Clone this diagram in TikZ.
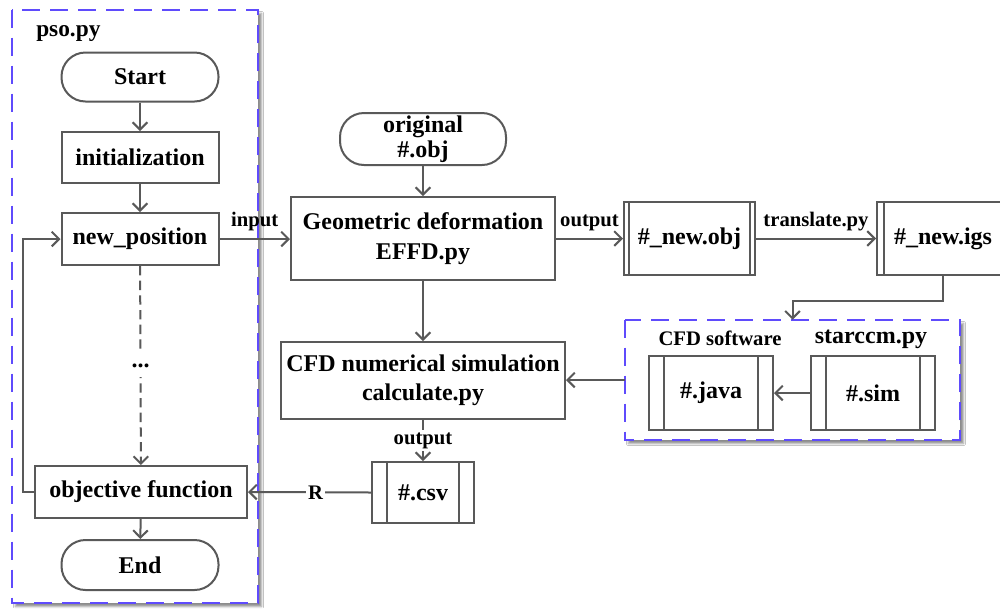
\documentclass[tikz,border=0pt]{standalone}
\usepackage{fontspec}
\setmainfont{Liberation Serif}
\usetikzlibrary{arrows.meta,shadows.blur}

\definecolor{linegrey}{RGB}{89,89,89}
\definecolor{groupblue}{RGB}{95,75,252}

\tikzset{
  every node/.style={font=\bfseries\fontsize{18}{22}\selectfont, text=black, inner sep=0pt},
  smalltxt/.style={font=\bfseries\fontsize{15.5}{18}\selectfont},
  box/.style={draw=linegrey, line width=1.5pt, fill=white, align=center},
  terminal/.style={box, rounded corners=18pt, minimum width=157*0.75pt},
  bars/.style={box, path picture={
      \draw[linegrey, line width=1.5pt]
        ([xshift=#1]path picture bounding box.north west) -- ([xshift=#1]path picture bounding box.south west)
        ([xshift=-#1]path picture bounding box.north east) -- ([xshift=-#1]path picture bounding box.south east);}},
  group/.style={fill=white,
      blur shadow={shadow xshift=2.6pt, shadow yshift=-2.6pt, shadow blur radius=1.6pt, shadow opacity=45}},
  groupline/.style={draw=groupblue, line width=1.8pt, dash pattern=on 13.5pt off 7.5pt},
  arr/.style={draw=linegrey, line width=1.5pt, -{Straight Barb[length=5.5pt, width=11pt, line width=1.5pt]}},
  label on line/.style={smalltxt, fill=white, inner sep=1.5pt},
}

\begin{document}
\begin{tikzpicture}[x=0.75pt, y=-0.75pt]
  \clip (0,0) rectangle (1000,608);
  \fill[white] (0,0) rectangle (1000,608);

  % dashed groups
  \node[group, minimum width=246*0.75pt, minimum height=593*0.75pt] (psobox) at (135,306.5) {};
  \node[group, minimum width=335*0.75pt, minimum height=120*0.75pt] (cfdbox) at (792.5,380) {};
  \draw[groupline] (psobox.north west) rectangle (psobox.south east);
  \draw[groupline] (cfdbox.north west) rectangle (cfdbox.south east);

  % pso.py flow
  \node[anchor=west, font=\bfseries\fontsize{17.5}{20}\selectfont] (psolabel) at (36,34) {pso.py};
  \node[terminal, minimum height=49*0.75pt] (start) at (140,77) {Start};
  \node[box, minimum width=157*0.75pt, minimum height=51*0.75pt] (init) at (140,157.5) {initialization};
  \node[box, minimum width=157*0.75pt, minimum height=52*0.75pt] (newpos) at (140,239) {new\_position};
  \node[box, minimum width=212*0.75pt, minimum height=52*0.75pt] (obj) at (141,492) {objective function};
  \node[terminal, minimum height=50*0.75pt] (end) at (140,565) {End};

  % geometry and simulation chain
  \node[terminal, minimum width=166*0.75pt, minimum height=52*0.75pt,
        font=\bfseries\fontsize{18}{19}\selectfont] (orig) at (423,139) {original\\\#.obj};
  \node[box, minimum width=264*0.75pt, minimum height=83*0.75pt] (geo) at (423,238.5) {Geometric deformation\\EFFD.py};
  \node[bars=3.75pt, minimum width=131*0.75pt, minimum height=73*0.75pt] (newobj) at (689.5,238.5) {\#\_new.obj};
  \node[bars=5.25pt, minimum width=132*0.75pt, minimum height=73*0.75pt] (newigs) at (943,238.5) {\#\_new.igs};
  \node[box, minimum width=284*0.75pt, minimum height=77*0.75pt] (cfd) at (423,380.5) {CFD numerical simulation\\calculate.py};
  \node[bars=11.25pt, minimum width=124*0.75pt, minimum height=74*0.75pt] (java) at (711,393) {\#.java};
  \node[bars=11.25pt, minimum width=124*0.75pt, minimum height=74*0.75pt] (sim) at (873,393) {\#.sim};
  \node[smalltxt] (cfdsw) at (720,338) {CFD software};
  \node (starccm) at (871,339) {starccm.py};
  \node[bars=11.25pt, minimum width=102*0.75pt, minimum height=61*0.75pt] (csv) at (423,492.5) {\#.csv};

  % pso.py connectors
  \draw[arr] (start) -- (init);
  \draw[arr] (init) -- (newpos);
  \draw[arr, dash pattern=on 7pt off 4pt] (newpos) --
    node[fill=white, minimum height=17pt, minimum width=14pt, pos=0.5] (dots) {...} (obj);
  \draw[arr] (obj) -- (end);
  \draw[arr] (obj.west) -- ++(-11,0) |- (newpos.west);

  % main chain connectors
  \draw[arr] (newpos.east) -- node[smalltxt, above=5pt] (inlbl) {input} (geo.west |- newpos.east);
  \draw[arr] (orig) -- (geo);
  \draw[arr] (geo.east) -- node[smalltxt, above=5pt] (outlbl) {output} (newobj.west);
  \draw[arr] (newobj.east) -- node[smalltxt, above=5pt] (trlbl) {translate.py} (newigs.west);
  \draw[arr] (newigs.south) -- ++(0,25) -| (cfdbox.north);
  \draw[arr] (sim.west) -- (java.east);
  \draw[arr] (cfdbox.west) -- (cfd.east |- cfdbox.west);
  \draw[arr] (geo) -- (cfd);
  \draw[arr] (cfd) -- node[label on line] (outlbl2) {output} (csv);
  \draw[arr] (csv.west) -- node[label on line, pos=0.45] (rlbl) {R} (obj.east);
\end{tikzpicture}
\end{document}
